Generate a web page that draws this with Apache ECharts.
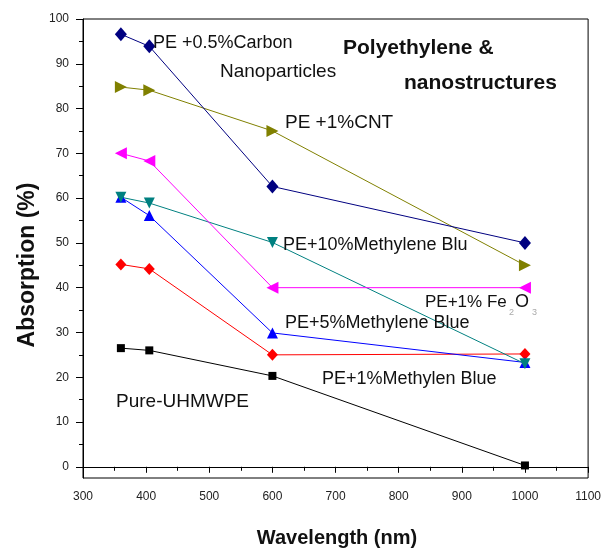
<!DOCTYPE html>
<html>
<head>
<meta charset="utf-8">
<script src="https://cdn.jsdelivr.net/npm/echarts@6/dist/echarts.min.js"></script>
<style>html,body{margin:0;padding:0;background:#fff}#c{width:604px;height:552px}</style>
</head>
<body>
<div id="c"></div>
<script>
var wavelengths = [360, 405, 600, 1000];
var carbonNano = [96.6, 93.9, 62.6, 50];
var cnt = [84.8, 84.1, 75, 45];
var fe2o3 = [70, 68.3, 40, 40];
var mb10 = [60.2, 58.9, 50.1, 23];
var mb5 = [60.2, 56.1, 29.9, 23.3];
var mb1 = [45.2, 44.2, 25, 25.2];
var pure = [26.5, 26, 20.3, 0.3];
var yMajorTicks = [0, 10, 20, 30, 40, 50, 60, 70, 80, 90, 100];
var yMinorTicks = [5, 15, 25, 35, 45, 55, 65, 75, 85, 95];

function pts(vals) { return wavelengths.map(function (w, i) { return [w, vals[i]]; }); }

var FONT = '"Liberation Sans", Arial, sans-serif';
function ser(name, vals, color, symbol, size, rot) {
  return {
    name: name, type: 'line', data: pts(vals),
    symbol: symbol, symbolSize: size, symbolRotate: rot || 0,
    lineStyle: { color: color, width: 1 },
    itemStyle: { color: color },
    animation: false, z: 3
  };
}

var chart = echarts.init(document.getElementById('c'));
function txt(text, x, y, size, bold, color) {
  return {
    type: 'text', x: x, y: y, z: 10,
    style: {
      text: text, fill: color || '#111',
      font: (bold ? 'bold ' : '') + size + 'px ' + FONT,
      textAlign: 'left', textVerticalAlign: 'middle', verticalAlign: 'middle'
    }
  };
}
chart.setOption({
  animation: false,
  grid: { left: 83, right: 12, top: 19, bottom: 74, show: true, borderColor: '#000', borderWidth: 1 },
  xAxis: {
    type: 'value', min: 300, max: 1100, interval: 100,
    axisLine: { lineStyle: { color: '#000', width: 1 } },
    axisTick: { length: 6, lineStyle: { color: '#000' } },
    minorTick: { show: true, splitNumber: 2, length: 4, lineStyle: { color: '#000' } },
    splitLine: { show: false },
    axisLabel: { margin: 13, color: '#222', fontSize: 12, fontFamily: FONT,
      formatter: function (v) { return String(v); } }
  },
  yAxis: [{
    type: 'value', min: -2.5, max: 100,
    axisLine: { show: true, lineStyle: { color: '#000', width: 1 } },
    axisTick: { show: true, length: 7, customValues: yMajorTicks, lineStyle: { color: '#000' } },
    axisLabel: { margin: 14, customValues: yMajorTicks, color: '#222', fontSize: 12, fontFamily: FONT },
    splitLine: { show: false }
  }, {
    type: 'value', min: -2.5, max: 100, position: 'left',
    axisLine: { show: false },
    axisTick: { show: true, length: 4, customValues: yMinorTicks, lineStyle: { color: '#000' } },
    axisLabel: { show: false },
    splitLine: { show: false }
  }],
  series: [
    ser('Pure-UHMWPE', pure, '#000000', 'rect', 8),
    ser('PE+1%Methylen Blue', mb1, '#ff0000', 'diamond', [11, 12]),
    ser('PE+5%Methylene Blue', mb5, '#0000ff', 'triangle', 11),
    ser('PE+10%Methylene Blu', mb10, '#008080', 'triangle', 11, 180),
    ser('PE+1%Fe2O3', fe2o3, '#ff00ff', 'triangle', 12, 90),
    ser('PE+1%CNT', cnt, '#808000', 'triangle', 12, -90),
    ser('PE+0.5%Carbon Nanoparticles', carbonNano, '#000080', 'diamond', [12, 14])
  ],
  graphic: [
    txt('PE +0.5%Carbon', 153, 43, 18),
    txt('Nanoparticles', 220, 72, 19),
    txt('Polyethylene &', 343, 48, 21, true),
    txt('nanostructures', 404, 83, 21, true),
    txt('PE +1%CNT', 285, 123, 19),
    txt('PE+10%Methylene Blu', 283, 245, 18),
    txt('PE+1% Fe', 425, 302, 17),
    txt('O', 515, 302, 18),
    txt('2', 509, 313, 9, false, '#aaa'),
    txt('3', 532, 313, 9, false, '#aaa'),
    txt('PE+5%Methylene Blue', 285, 323, 18),
    txt('PE+1%Methylen Blue', 322, 379, 18),
    txt('Pure-UHMWPE', 116, 402, 19),
    {
      type: 'text', x: 28, y: 265, rotation: Math.PI / 2, z: 10,
      style: { text: 'Absorption (%)', fill: '#111', font: 'bold 23px ' + FONT,
        textAlign: 'center', textVerticalAlign: 'middle', verticalAlign: 'middle' }
    },
    {
      type: 'text', x: 337, y: 538, z: 10,
      style: { text: 'Wavelength (nm)', fill: '#111', font: 'bold 20px ' + FONT,
        textAlign: 'center', textVerticalAlign: 'middle', verticalAlign: 'middle' }
    }
  ]
});
</script>
</body>
</html>
